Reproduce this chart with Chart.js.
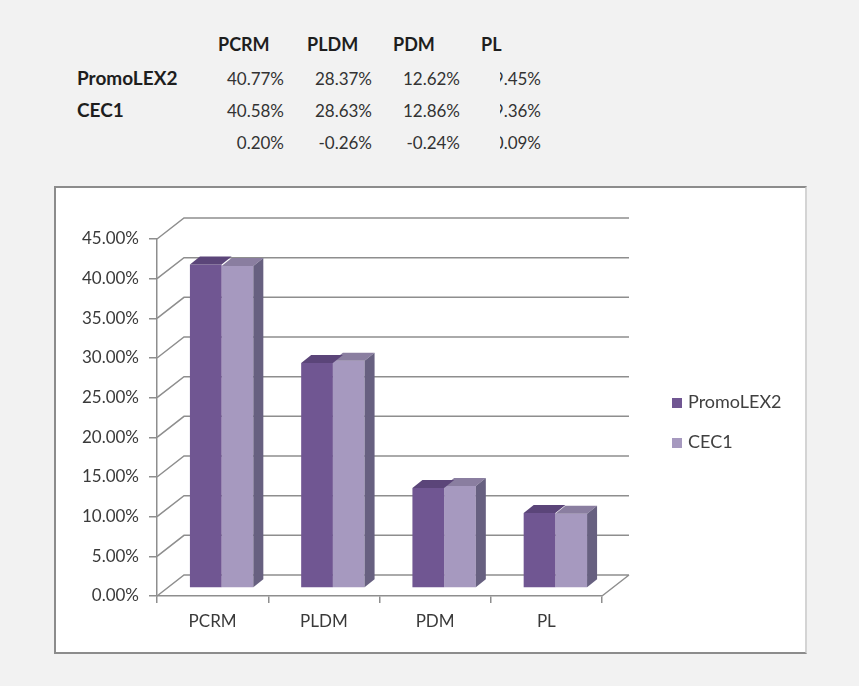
<!DOCTYPE html>
<html>
<head>
<meta charset="utf-8">
<script src="https://cdn.jsdelivr.net/npm/chart.js@4/dist/chart.umd.min.js"></script>
<style>
  body { margin:0; width:859px; height:686px; background:#f2f2f2; position:relative; overflow:hidden;
         font-family: Lato, "Open Sans", sans-serif; color:#333; }
  .cell { position:absolute; white-space:nowrap; font-size:17px; line-height:20px; height:22px; }
  .hd { font-weight:bold; color:#1e1e1e; font-size:18px; }
  .rl { font-size:19px; }
  .val { overflow:hidden; }
  .val span { position:absolute; right:0; top:0; }
  #box { position:absolute; left:54px; top:186px; width:753px; height:468px; box-sizing:border-box;
         background:#fff; border:2px solid #8c8c8c; border-right-color:#d4d4d4; }
  #wrap { position:absolute; left:0; top:0; width:749px; height:464px; }
  #legend { position:absolute; left:616px; top:201px; font-size:18px; color:#404040; }
  .li { height:40px; line-height:24px; white-space:nowrap; }
  .sw { display:inline-block; width:10px; height:10px; margin-right:6px; vertical-align:0px; }
</style>
</head>
<body>
<div id="table"></div>
<div id="box">
  <div id="wrap"><canvas id="chart"></canvas></div>
  <div id="legend"></div>
</div>
<script>
// data
const categories = ['PCRM', 'PLDM', 'PDM', 'PL'];
const seriesNames = ['PromoLEX2', 'CEC1'];
const promolexValues = [40.77, 28.37, 12.62, 9.45];
const cecValues = [40.58, 28.63, 12.86, 9.36];
const diffValues = [0.20, -0.26, -0.24, 0.09];
const yMin = 0, yMax = 45, yStep = 5;

const seriesColors = ['#705692', '#a699bf'];
const topColors = ['#5b4579', '#8a7ea0'];
const sideColors = ['#5b4579', '#676080'];

// --- table above the chart ---
const tbl = document.getElementById('table');
const colLeft = [218, 307, 393, 481];
const colRight = [284, 372, 460, 541];
const rowY = [34, 69, 101, 133];
function cell(txt, cls, style) {
  const d = document.createElement('div');
  d.className = 'cell ' + cls;
  Object.assign(d.style, style);
  if (cls === 'val') {
    const s = document.createElement('span');
    s.textContent = txt;
    d.appendChild(s);
  } else d.textContent = txt;
  tbl.appendChild(d);
}
categories.forEach((c, i) => cell(c, 'hd', {left: colLeft[i] + 'px', top: rowY[0] + 'px'}));
const rows = [[seriesNames[0], promolexValues], [seriesNames[1], cecValues], ['', diffValues]];
rows.forEach((r, ri) => {
  if (r[0]) cell(r[0], 'hd rl', {left: '77px', top: (rowY[ri + 1] - 1) + 'px'});
  r[1].forEach((v, i) => {
    const w = i == 3 ? 41 : 80;
    cell(v.toFixed(2) + '%', 'val', {left: (colRight[i] - w) + 'px', width: w + 'px', top: rowY[ri + 1] + 'px'});
  });
});

// --- fake 3d ---
const wall = {dx: 27, dy: -21};
const shift = {dx: 9, dy: -8};
const depth = {dx: 10, dy: -8};
const gridColor = '#8e8e8e';

const fake3d = {
  id: 'fake3d',
  beforeDatasetsDraw(chart) {
    const ctx = chart.ctx, a = chart.chartArea, ys = chart.scales.y;
    ctx.save();
    ctx.strokeStyle = gridColor;
    ctx.lineWidth = 1.5;
    ctx.beginPath();
    for (let v = yMin; v <= yMax; v += yStep) {
      const y = ys.getPixelForValue(v);
      ctx.moveTo(a.left, y);
      ctx.lineTo(a.left + wall.dx, y + wall.dy);
      ctx.lineTo(a.right + wall.dx, y + wall.dy);
    }
    const y0 = ys.getPixelForValue(yMin);
    ctx.moveTo(a.right, y0);
    ctx.lineTo(a.right + wall.dx, y0 + wall.dy);
    ctx.stroke();
    ctx.restore();
    ctx.save();
    ctx.translate(shift.dx, shift.dy);
  },
  afterDatasetDraw(chart, args) {
    const ctx = chart.ctx, di = args.index;
    const last = chart.data.datasets.length - 1;
    args.meta.data.forEach(el => {
      const p = el.getProps(['x', 'y', 'base', 'width'], true);
      const l = p.x - p.width / 2, r = p.x + p.width / 2;
      ctx.fillStyle = topColors[di];
      ctx.beginPath();
      ctx.moveTo(l, p.y);
      ctx.lineTo(r, p.y);
      ctx.lineTo(r + depth.dx, p.y + depth.dy);
      ctx.lineTo(l + depth.dx, p.y + depth.dy);
      ctx.closePath();
      ctx.fill();
      if (di === last) {
        ctx.fillStyle = sideColors[di];
        ctx.beginPath();
        ctx.moveTo(r, p.y);
        ctx.lineTo(r + depth.dx, p.y + depth.dy);
        ctx.lineTo(r + depth.dx, p.base + depth.dy);
        ctx.lineTo(r, p.base);
        ctx.closePath();
        ctx.fill();
      }
    });
  },
  afterDatasetsDraw(chart) {
    chart.ctx.restore();
  }
};

const chart = new Chart(document.getElementById('chart'), {
  type: 'bar',
  data: {
    labels: categories,
    datasets: [
      {label: seriesNames[0], data: promolexValues, backgroundColor: seriesColors[0]},
      {label: seriesNames[1], data: cecValues, backgroundColor: seriesColors[1]}
    ]
  },
  options: {
    responsive: true,
    maintainAspectRatio: false,
    animation: false,
    layout: {padding: {left: 0, right: 203, top: 51, bottom: 0}},
    datasets: {bar: {categoryPercentage: 0.57, barPercentage: 1.0, clip: false}},
    plugins: {legend: {display: false}, tooltip: {enabled: false}},
    scales: {
      x: {
        grid: {drawOnChartArea: false, drawTicks: true, tickLength: 7, color: gridColor, lineWidth: 1.5},
        border: {display: true, color: gridColor, width: 1.5},
        ticks: {color: '#3a3a3a', font: {family: 'Lato', size: 17}, padding: 8},
        afterFit(s) { s.height = 56; }
      },
      y: {
        min: yMin, max: yMax,
        grid: {drawOnChartArea: false, drawTicks: true, tickLength: 8, color: gridColor, lineWidth: 1.5},
        border: {display: true, color: gridColor, width: 1.5},
        ticks: {stepSize: yStep, color: '#3a3a3a', font: {family: 'Lato', size: 17}, padding: 10,
                callback: v => v.toFixed(2) + '%'},
        afterFit(s) { s.width = 101; }
      }
    }
  },
  plugins: [fake3d]
});

// html legend from the datasets
const lg = document.getElementById('legend');
chart.data.datasets.forEach(ds => {
  const d = document.createElement('div');
  d.className = 'li';
  const sw = document.createElement('span');
  sw.className = 'sw';
  sw.style.background = ds.backgroundColor;
  d.appendChild(sw);
  d.appendChild(document.createTextNode(ds.label));
  lg.appendChild(d);
});
</script>
</body>
</html>
